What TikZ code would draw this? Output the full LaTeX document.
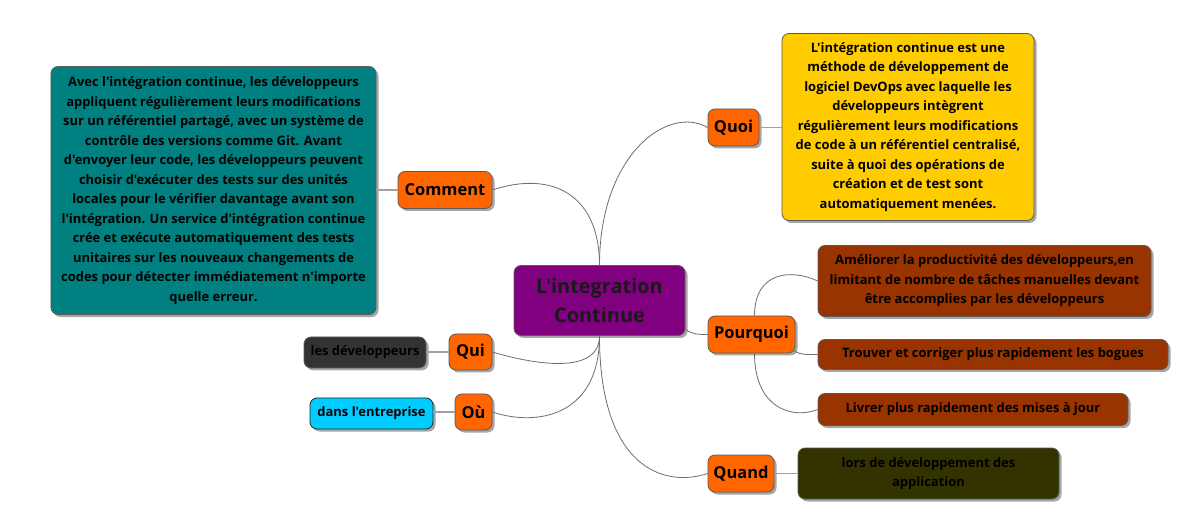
\documentclass[tikz,border=0pt]{standalone}
\usepackage{fontspec}
\setmainfont{Open Sans}[Ligatures=TeXOff]
\usetikzlibrary{shadows,calc}
\definecolor{orangec}{HTML}{FF6600}
\definecolor{purplec}{HTML}{800080}
\definecolor{tealc}{HTML}{008080}
\definecolor{yellowc}{HTML}{FFCC00}
\definecolor{brownc}{HTML}{993300}
\definecolor{olivec}{HTML}{333300}
\definecolor{darkc}{HTML}{333333}
\definecolor{cyanc}{HTML}{00CCFF}
\definecolor{borderc}{HTML}{5A5A5A}
\definecolor{curvec}{HTML}{6E6E6E}
\definecolor{stemc}{HTML}{A0A0A0}
\begin{document}
\begin{tikzpicture}[x=1bp,y=-1bp,
  box/.style={draw=borderc, line width=0.8bp, rounded corners=7bp, inner sep=0pt, align=center,
    drop shadow={shadow xshift=2.5bp,shadow yshift=-2.5bp,opacity=0.35,fill=black}},
  topic/.style={box, fill=orangec, font=\bfseries\fontsize{16.5}{20}\selectfont, minimum height=37bp},
  leaf/.style={box, font=\bfseries\fontsize{13}{19.6}\selectfont},
  curve/.style={draw=curvec, line width=0.8bp},
  stem/.style={draw=stemc, line width=1.5bp}]
\useasboundingbox (0,0) rectangle (1187,522);
\fill[white] (0,0) rectangle (1187,522);

% center
\node[box, fill=purplec, font=\bfseries\fontsize{20}{30}\selectfont, minimum width=171bp, minimum height=70bp, text=black!90] (c) at (599.5,300.5) {L'integration\\Continue};

% topics
\node[topic, minimum width=94bp] (com) at (445,190) {Comment};
\node[topic, minimum width=51bp] (quoi) at (733.5,127.5) {Quoi};
\node[topic, minimum width=87bp] (pw) at (751.5,334.5) {Pourquoi};
\node[topic, minimum width=66bp] (qd) at (741,473.5) {Quand};
\node[topic, minimum width=43bp, minimum height=36bp] (qui) at (470.5,352) {Qui};
\node[topic, minimum width=37bp, minimum height=36bp] (ou) at (473.5,412) {Où};

% leaves
\node[leaf, fill=tealc, minimum width=325bp, minimum height=248bp] (teal) at (213.5,190.5) {Avec l'intégration continue, les développeurs\\appliquent régulièrement leurs modifications\\sur un référentiel partagé, avec un système de\\contrôle des versions comme Git. Avant\\d'envoyer leur code, les développeurs peuvent\\choisir d'exécuter des tests sur des unités\\locales pour le vérifier davantage avant son\\l'intégration. Un service d'intégration continue\\crée et exécute automatiquement des tests\\unitaires sur les nouveaux changements de\\codes pour détecter immédiatement n'importe\\quelle erreur.};
\node[leaf, fill=yellowc, minimum width=252bp, minimum height=187bp] (yel) at (908,127) {L'intégration continue est une\\méthode de développement de\\logiciel DevOps avec laquelle les\\développeurs intègrent\\régulièrement leurs modifications\\de code à un référentiel centralisé,\\suite à quoi des opérations de\\création et de test sont\\automatiquement menées.};
\node[leaf, fill=brownc, minimum width=333bp, minimum height=71bp] (b1) at (984.5,281) {Améliorer la productivité des développeurs,en\\limitant de nombre de tâches manuelles devant\\être accomplies par les développeurs};
\node[leaf, fill=brownc, minimum width=350bp, minimum height=30bp] (b2) at (993,354.5) {Trouver et corriger plus rapidement les bogues};
\node[leaf, fill=brownc, minimum width=310bp, minimum height=32bp] (b3) at (973,409.5) {Livrer plus rapidement des mises à jour};
\node[leaf, fill=olivec, minimum width=261bp, minimum height=51bp] (ol) at (928.5,473.5) {lors de développement des\\application};
\node[leaf, fill=darkc, minimum width=122bp, minimum height=31bp] (dk) at (365,352.5) {les développeurs};
\node[leaf, fill=cyanc, draw=black!85, minimum width=123bp, minimum height=31bp] (cy) at (371.5,413.5) {dans l'entreprise};

% curves from center
\draw[curve] (c.north) .. controls +(0,-70) and +(60,-20) .. (com.east);
\draw[curve] (c.north) .. controls +(0,-110) and +(-40,-23) .. (quoi.west);
\draw[curve] ($(c.east)+(0,29)$) .. controls +(8,5) and +(-10,0) .. (pw.west);
\draw[curve] (c.south) .. controls +(0,40) and +(40,12) .. (qui.east);
\draw[curve] (c.south) .. controls +(0,80) and +(45,15) .. (ou.east);
\draw[curve] (c.south) .. controls +(0,130) and +(-45,15) .. (qd.west);

% curves from Pourquoi
\draw[curve] ($(pw.north)+(3,0)$) .. controls +(0,-45) and +(-25,-12) .. (b1.west);
\draw[curve] ($(pw.east)+(-2,16)$) .. controls +(8,5) and +(-10,0) .. (b2.west);
\draw[curve] ($(pw.south)+(3,0)$) .. controls +(0,55) and +(-25,10) .. (b3.west);

% stems
\draw[stem] (com.west) -- (teal.east |- com.west);
\draw[stem] (quoi.east) -- (yel.west |- quoi.east);
\draw[stem] (qd.east) -- (ol.west |- qd.east);
\draw[stem] (qui.west) -- (dk.east |- qui.west);
\draw[stem] (ou.west) -- (cy.east |- ou.west);
\end{tikzpicture}
\end{document}
